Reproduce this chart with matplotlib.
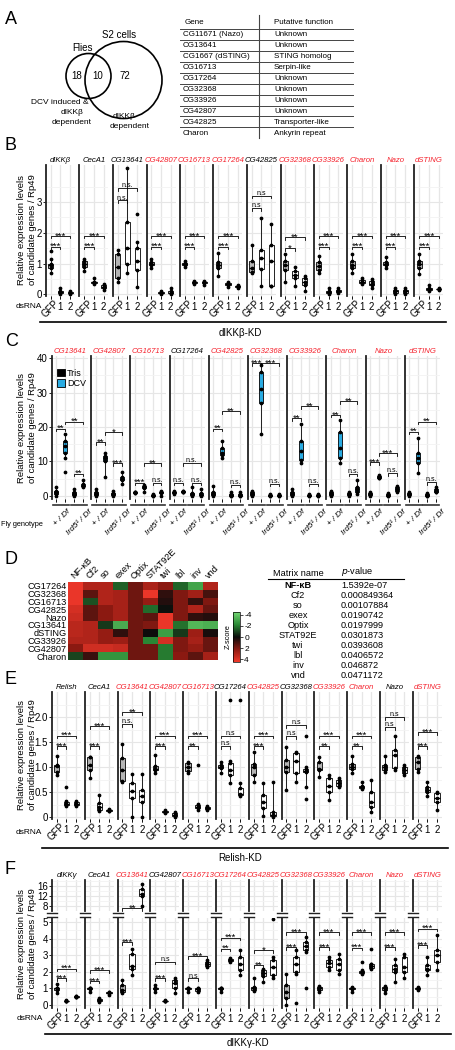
import numpy as np
import matplotlib
matplotlib.use("Agg")
import matplotlib.pyplot as plt
from matplotlib.colors import LinearSegmentedColormap
from matplotlib.patches import Circle, Patch

plt.rcParams['font.family'] = ['Liberation Sans', 'DejaVu Sans']

W, H = 456, 1050
RED = '#f5222d'
BLUE = '#29abe2'
GRID = '#e6e6e6'
GFPFILL = '#b5b5b5'

# ---------------- panel A data ----------------
venn_names = ['Flies', 'S2 cells']
venn_counts = [18, 10, 72]
tbl_genes = ['CG11671 (Nazo)', 'CG13641', 'CG1667 (dSTING)', 'CG16713', 'CG17264',
             'CG32368', 'CG33926', 'CG42807', 'CG42825', 'Charon']
tbl_funcs = ['Unknown', 'Unknown', 'STING homolog', 'Serpin-like', 'Unknown',
             'Unknown', 'Unknown', 'Unknown', 'Transporter-like', 'Ankyrin repeat']

# ---------------- panel B data (dIKKb-KD) ----------------
# each group: (whisker low, q1, median, q3, whisker high); groups = GFP, 1, 2
genes_B = ['dIKKβ', 'CecA1', 'CG13641', 'CG42807', 'CG16713', 'CG17264',
           'CG42825', 'CG32368', 'CG33926', 'Charon', 'Nazo', 'dSTING']
red_B = [0, 0, 0, 1, 1, 1, 0, 1, 1, 1, 1, 1]
stats_B = [
    [(0.7, 0.85, 0.95, 1.0, 1.15), (0.0, 0.04, 0.07, 0.1, 0.2), (0.02, 0.04, 0.05, 0.07, 0.1)],
    [(0.75, 0.9, 1.0, 1.1, 1.15), (0.35, 0.38, 0.4, 0.42, 0.55), (0.15, 0.22, 0.25, 0.3, 0.35)],
    [(0.4, 0.55, 0.9, 1.3, 1.45), (0.7, 1.0, 1.5, 2.35, 4.1), (0.25, 0.8, 1.1, 1.5, 1.7)],
    [(0.85, 0.95, 1.0, 1.05, 1.15), (0.02, 0.04, 0.06, 0.08, 0.12), (0.02, 0.04, 0.06, 0.1, 0.2)],
    [(0.9, 0.97, 1.0, 1.03, 1.1), (0.35, 0.38, 0.4, 0.42, 0.45), (0.3, 0.37, 0.4, 0.42, 0.45)],
    [(0.6, 0.85, 0.95, 1.05, 1.35), (0.25, 0.3, 0.33, 0.38, 0.42), (0.2, 0.24, 0.26, 0.28, 0.3)],
    [(0.68, 0.72, 0.85, 1.07, 1.6), (0.26, 0.84, 1.17, 1.43, 2.47), (0.26, 0.26, 1.1, 1.6, 2.3)],
    [(0.42, 0.78, 0.95, 1.1, 1.3), (0.26, 0.52, 0.62, 0.75, 0.88), (0.1, 0.3, 0.4, 0.52, 0.6)],
    [(0.7, 0.78, 0.92, 1.05, 1.25), (0.03, 0.06, 0.08, 0.12, 0.2), (0.05, 0.08, 0.1, 0.15, 0.22)],
    [(0.7, 0.85, 0.95, 1.1, 1.3), (0.33, 0.36, 0.42, 0.48, 0.55), (0.2, 0.3, 0.35, 0.45, 0.5)],
    [(0.85, 0.95, 1.0, 1.05, 1.2), (0.03, 0.06, 0.1, 0.15, 0.2), (0.03, 0.06, 0.1, 0.15, 0.22)],
    [(0.65, 0.85, 1.0, 1.1, 1.3), (0.12, 0.16, 0.18, 0.2, 0.3), (0.15, 0.17, 0.18, 0.19, 0.22)],
]
out_B = [(0, 1, 1.4), (2, 3, 2.6)]
# (label GFP-1, label GFP-2, height GFP-1, height GFP-2)
sig_B = [('***', '***', 1.55, 1.9), ('***', '***', 1.55, 1.9), ('n.s.', 'n.s.', 3.05, 3.45),
         ('***', '***', 1.55, 1.9), ('***', '***', 1.55, 1.9), ('***', '***', 1.55, 1.9),
         ('n.s', 'n.s', 2.8, 3.2), ('*', '**', 1.5, 1.85), ('***', '***', 1.55, 1.9),
         ('***', '***', 1.55, 1.9), ('***', '***', 1.55, 1.9), ('***', '***', 1.55, 1.9)]

# ---------------- panel C data (DCV infection) ----------------
# groups: +/Df Tris, +/Df DCV, Ird5/Df Tris, Ird5/Df DCV
genes_C = ['CG13641', 'CG42807', 'CG16713', 'CG17264', 'CG42825',
           'CG32368', 'CG33926', 'Charon', 'Nazo', 'dSTING']
red_C = [1, 1, 1, 0, 1, 1, 1, 1, 1, 1]
stats_C = [
    [(0, 0.5, 1, 1.5, 2.5), (11, 12.5, 14.5, 16, 18), (0, 0.3, 0.6, 1, 2), (2.5, 2.8, 3, 3.5, 4.5)],
    [(0, 0.3, 0.5, 1, 2), (5.5, 10, 11, 11.5, 12.5), (0, 0.2, 0.5, 0.8, 1.5), (3.5, 4.5, 5, 5.5, 7)],
    [(0.8, 0.9, 1.0, 1.1, 1.2), (1.0, 2.2, 2.5, 2.8, 3.3), (0, 0.1, 0.2, 0.3, 0.5), (0, 0.8, 1.0, 1.2, 1.5)],
    [(0.5, 0.8, 1.0, 1.2, 1.5), (1.0, 1.1, 1.2, 1.3, 1.5), (0, 0.2, 0.5, 0.8, 2.5), (0, 0.2, 0.4, 0.8, 2.0)],
    [(0, 0.3, 0.6, 1.2, 3), (11, 12, 12.5, 14, 16), (0, 0.1, 0.3, 0.5, 1), (0, 0.1, 0.3, 0.5, 1)],
    [(0, 0.2, 0.5, 1, 1.5), (18, 27, 31, 36, 38), (0, 0.1, 0.2, 0.3, 0.5), (0, 0.1, 0.2, 0.3, 0.5)],
    [(0, 0.3, 0.5, 1, 2), (9.6, 10.5, 13, 16, 21), (0, 0.1, 0.2, 0.3, 0.5), (0, 0.1, 0.2, 0.3, 0.5)],
    [(0, 0.3, 0.5, 1, 1.5), (9.6, 11, 14, 18.5, 22), (0, 0.2, 0.5, 0.8, 1.2), (0.5, 1.2, 2, 2.6, 4.5)],
    [(0, 0.2, 0.5, 0.8, 1.2), (5.2, 5.3, 5.5, 5.8, 6), (0, 0.1, 0.3, 0.5, 0.8), (1, 1.5, 2, 2.5, 3)],
    [(0, 0.2, 0.5, 0.8, 1.2), (6.6, 9.6, 11, 12.4, 16.8), (0, 0.1, 0.3, 0.5, 0.8), (1, 1.2, 1.5, 2, 2.5)],
]
out_C = [(0, 2, 7.0)]
# brackets: (group a, group b, height, label)
sig_C = [
    [(1, 2, 19.5, '**'), (3, 4, 6.5, '**'), (2, 4, 21.5, '**')],
    [(1, 2, 15.5, '**'), (3, 4, 9.5, '***'), (2, 4, 18.5, '*')],
    [(1, 2, 3.8, '***'), (3, 4, 3.8, 'n.s.'), (2, 4, 9.5, '**')],
    [(1, 2, 3.8, 'n.s.'), (3, 4, 3.8, 'n.s.'), (2, 4, 9.5, 'n.s.')],
    [(1, 2, 19.5, '**'), (3, 4, 3.2, 'n.s.'), (2, 4, 24.5, '**')],
    [(1, 2, 38.5, '***'), (2, 4, 38.5, '***'), (3, 4, 3.5, 'n.s.')],
    [(1, 2, 22.5, '**'), (2, 4, 26.0, '**'), (3, 4, 3.5, 'n.s.')],
    [(1, 2, 23.5, '**'), (2, 4, 27.5, '**'), (3, 4, 6.5, 'n.s.')],
    [(1, 2, 9.8, '***'), (2, 4, 12.4, '***'), (3, 4, 6.6, 'n.s.')],
    [(1, 2, 18.6, '**'), (2, 4, 21.5, '**'), (3, 4, 4.0, 'n.s.')],
]
geno_C = ['+ / Df', 'Ird5¹ / Df']

# ---------------- panel D data ----------------
rows_D = ['CG17264', 'CG32368', 'CG16713', 'CG42825', 'Nazo',
          'CG13641', 'dSTING', 'CG33926', 'CG42807', 'Charon']
cols_D = ['NF-κB', 'Cf2', 'so', 'exex', 'Optix', 'STAT92E', 'twi', 'lbl', 'inv', 'vnd']
z_D = [
    [4.3, 3.0, 3.0, -1.5, 1.7, 2.9, 2.2, -1.6, -3.0, 3.0],
    [4.3, 1.4, 3.0, 2.8, 1.7, 4.3, 0.6, 2.0, 2.7, 1.0],
    [4.3, -1.2, 3.0, 2.8, 1.7, 2.4, 0.4, 2.0, 0.7, 2.0],
    [3.8, 1.4, 2.2, 2.8, 1.7, -1.7, -0.1, 2.0, 3.0, 1.6],
    [3.6, 1.4, 2.2, 2.8, 1.7, 1.4, 4.3, 2.0, 0.6, 0.4],
    [3.2, 3.0, -0.8, -3.2, 1.7, 2.0, 4.3, -1.8, -3.5, -3.3],
    [3.2, 3.0, 2.4, 0.6, 1.7, 0.0, -2.8, -0.8, 2.6, 0.2],
    [3.0, 3.0, 2.4, 2.6, 1.7, -2.2, 3.8, 2.0, 2.8, 1.6],
    [2.2, 3.7, 3.7, 3.5, 1.7, 1.7, -2.0, 2.0, 2.4, 1.6],
    [-1.0, 0.8, -2.6, -2.6, 1.7, 1.7, -2.0, 2.2, 1.4, 2.8],
]
tf_names = ['NF-κB', 'Cf2', 'so', 'exex', 'Optix', 'STAT92E', 'twi', 'lbl', 'inv', 'vnd']
tf_pvals = ['1.5392e-07', '0.000849364', '0.00107884', '0.0190742', '0.0197999',
            '0.0301873', '0.0393608', '0.0406572', '0.046872', '0.0471172']

# ---------------- panel E data (Relish-KD) ----------------
genes_E = ['Relish', 'CecA1', 'CG13641', 'CG42807', 'CG16713', 'CG17264',
           'CG42825', 'CG32368', 'CG33926', 'Charon', 'Nazo', 'dSTING']
red_E = [0, 0, 1, 1, 1, 0, 1, 0, 1, 1, 0, 1]
stats_E = [
    [(0.85, 0.9, 1.02, 1.05, 1.22), (0.22, 0.25, 0.27, 0.3, 0.32), (0.22, 0.25, 0.27, 0.3, 0.32)],
    [(0.78, 0.94, 1.05, 1.2, 1.2), (0.12, 0.15, 0.2, 0.28, 0.44), (0.12, 0.13, 0.14, 0.15, 0.17)],
    [(0.7, 0.72, 0.95, 1.18, 1.47), (0.0, 0.38, 0.52, 0.68, 0.87), (0.0, 0.3, 0.42, 0.55, 0.87)],
    [(0.88, 0.94, 0.96, 1.02, 1.24), (0.08, 0.1, 0.11, 0.12, 0.14), (0.0, 0.02, 0.04, 0.08, 0.1)],
    [(0.88, 0.92, 1.0, 1.08, 1.1), (0.15, 0.18, 0.2, 0.24, 0.27), (0.15, 0.17, 0.18, 0.2, 0.22)],
    [(0.88, 0.98, 1.0, 1.04, 1.1), (0.68, 0.84, 0.95, 1.08, 1.12), (0.43, 0.44, 0.46, 0.58, 0.68)],
    [(0.7, 0.84, 1.0, 1.06, 1.3), (0.02, 0.18, 0.3, 0.45, 0.68), (0.0, 0.02, 0.05, 0.1, 0.7)],
    [(0.54, 0.9, 1.0, 1.14, 1.4), (0.7, 0.88, 1.12, 1.28, 1.3), (0.6, 0.9, 0.93, 0.97, 1.0)],
    [(0.8, 0.95, 0.97, 1.1, 1.2), (0.35, 0.5, 0.62, 0.78, 0.85), (0.6, 0.62, 0.68, 0.74, 0.78)],
    [(0.88, 0.96, 1.0, 1.06, 1.22), (0.57, 0.59, 0.6, 0.62, 0.7), (0.1, 0.2, 0.3, 0.5, 0.75)],
    [(0.9, 0.95, 1.0, 1.05, 1.22), (0.95, 0.98, 1.25, 1.35, 1.63), (0.84, 0.88, 0.95, 1.0, 1.05)],
    [(0.9, 0.96, 1.1, 1.2, 1.22), (0.42, 0.5, 0.55, 0.6, 0.7), (0.15, 0.3, 0.38, 0.48, 0.5)],
]
out_E = [(0, 2, 0.6), (4, 2, 1.04), (5, 2, 2.34), (5, 3, 2.34), (7, 3, 1.62), (7, 3, 0.36)]
sig_E = [('***', '***', 1.42, 1.63), ('***', '***', 1.42, 1.82), ('n.s.', '**', 1.86, 2.1),
         ('***', '***', 1.42, 1.63), ('**', '***', 1.42, 1.63), ('n.s', 'n.s', 1.42, 1.63),
         ('***', '***', 1.42, 1.63), ('n.s', 'n.s', 1.62, 1.84), ('**', '***', 1.42, 1.63),
         ('**', '***', 1.42, 1.63), ('n.s', 'n.s', 1.8, 2.0), ('***', '***', 1.42, 1.7)]

# ---------------- panel F data (dIKKg-KD) ----------------
genes_F = ['dIKKγ', 'CecA1', 'CG13641', 'CG42807', 'CG16713', 'CG17264',
           'CG42825', 'CG32368', 'CG33926', 'Charon', 'Nazo', 'dSTING']
red_F = [0, 0, 1, 0, 1, 1, 1, 1, 1, 1, 1, 1]
stats_F = [
    [(0.75, 0.9, 1.0, 1.05, 1.25), (0.22, 0.24, 0.25, 0.26, 0.28), (0.46, 0.48, 0.5, 0.52, 0.55)],
    [(0.8, 0.97, 1.0, 1.0, 1.02), (0.18, 0.22, 0.28, 0.35, 0.45), (0.6, 0.7, 0.75, 0.78, 0.8)],
    [(0.75, 0.8, 0.9, 1.2, 1.5), (1.8, 2.2, 2.35, 3.1, 3.4), (8, 12, 13, 15, 17)],
    [(0.8, 0.95, 1.0, 1.0, 1.2), (0.22, 0.24, 0.25, 0.26, 0.28), (0.7, 1.0, 1.3, 1.5, 1.6)],
    [(0.8, 0.97, 1.0, 1.0, 1.03), (0.8, 0.85, 0.95, 1.0, 1.05), (2.3, 2.35, 2.5, 2.6, 2.7)],
    [(0.8, 0.97, 1.0, 1.0, 1.05), (2.6, 2.65, 2.7, 2.75, 2.85), (1.8, 2.1, 2.5, 2.9, 3.3)],
    [(0.85, 0.9, 1.0, 1.1, 1.6), (1.4, 1.75, 1.95, 2.1, 2.2), (1.6, 1.8, 2.3, 2.7, 2.9)],
    [(0.0, 0.45, 0.8, 1.2, 1.85), (1.9, 2.0, 2.5, 2.9, 3.3), (3.2, 3.3, 3.55, 3.8, 4.1)],
    [(0.8, 0.9, 1.0, 1.1, 1.15), (2.1, 2.3, 2.55, 2.7, 2.9), (1.9, 2.1, 2.5, 2.8, 3.1)],
    [(0.8, 0.95, 1.0, 1.05, 1.1), (1.9, 1.95, 2.0, 2.05, 2.1), (2.2, 2.25, 2.35, 2.45, 2.5)],
    [(0.7, 0.9, 1.0, 1.1, 1.15), (1.4, 2.0, 2.2, 2.4, 2.75), (1.6, 2.0, 2.3, 2.9, 3.1)],
    [(0.9, 0.95, 1.0, 1.05, 1.1), (1.8, 2.1, 2.2, 2.4, 2.9), (2.1, 2.6, 3.0, 3.3, 4.2)],
]
out_F = [(6, 3, 5.2), (7, 2, 0.1), (7, 3, 1.0), (9, 2, 2.6), (9, 3, 3.4)]
sig_F = [('***', '***', 1.6, 2.2), ('***', '***', 1.45, 2.1), ('***', '**', 3.8, 7.2),
         ('***', 'n.s', 1.6, 2.6), ('n.s', '***', 1.6, 2.95), ('**', '***', 3.4, 4.07),
         ('**', '*', 2.4, 3.3), ('***', '***', 3.5, 4.4), ('***', '***', 3.5, 4.4),
         ('***', '***', 3.45, 4.4), ('***', '***', 3.5, 4.4), ('***', '***', 3.6, 4.6)]

# ---------------------------------------------------------------
fig = plt.figure(figsize=(W / 100, H / 100), dpi=100)


def ax_px(x, y, w, h):
    return fig.add_axes([x / W, 1 - (y + h) / H, w / W, h / H])


def draw_box(ax, pos, st, fill, w=0.55, lw=0.6):
    lo, q1, med, q3, hi = st
    ax.bxp([dict(whislo=lo, q1=q1, med=med, q3=q3, whishi=hi, fliers=[])],
           positions=[pos], widths=w, showcaps=False, patch_artist=True,
           boxprops=dict(facecolor=fill, edgecolor='k', lw=lw),
           whiskerprops=dict(color='k', lw=lw), medianprops=dict(color='k', lw=lw * 1.6))
    ax.plot([pos] * 5, st, 'o', ms=1.7, color='k', zorder=5, clip_on=True)


def bracket(ax, x1, x2, y, lab, drop_px=2.5):
    y0, y1 = ax.get_ylim()
    d = drop_px * (y1 - y0) / ax.bbox.height
    ax.plot([x1, x1, x2, x2], [y - d, y, y, y - d], color='k', lw=0.6, clip_on=False, zorder=6)
    star = '*' in lab
    ax.annotate(lab, ((x1 + x2) / 2, y), xytext=(0, -2.4 if star else 0.8),
                textcoords='offset pixels', ha='center', va='baseline',
                fontsize=6.8 if star else 5.0, annotation_clip=False)


def facet(x, y, w, h, nbox, ylim, yticks, ylabs, minor, first):
    ax = ax_px(x, y, w, h)
    ax.set_xlim(0.5, nbox + 0.5)
    ax.set_ylim(*ylim)
    for s in ['top', 'right', 'bottom']:
        ax.spines[s].set_visible(False)
    ax.spines['left'].set_linewidth(1.3)
    ax.spines['left'].set_color('#222222')
    ax.set_xticks(range(1, nbox + 1))
    ax.set_yticks(yticks)
    ax.set_yticks(minor, minor=True)
    ax.grid(True, which='major', color=GRID, lw=0.8)
    ax.grid(True, which='minor', axis='y', color='#f3f3f3', lw=0.6)
    ax.set_axisbelow(True)
    ax.tick_params(axis='x', length=2, width=0.5, labelbottom=False)
    ax.tick_params(axis='y', which='minor', length=0)
    if first:
        ax.set_yticklabels(ylabs, fontsize=7)
        ax.tick_params(axis='y', length=2, width=0.6, pad=1)
    else:
        ax.tick_params(axis='y', length=0, labelleft=False)
    return ax


def kd_labels(ax):
    for j, lab in enumerate(['GFP', '1', '2']):
        if lab == 'GFP':
            ax.annotate(lab, (j + 1, 0), xycoords=('data', 'axes fraction'), xytext=(0, -2),
                        textcoords='offset pixels', rotation=45, ha='center', va='top',
                        fontsize=7, annotation_clip=False)
        else:
            ax.annotate(lab, (j + 1, 0), xycoords=('data', 'axes fraction'), xytext=(0, -11),
                        textcoords='offset pixels', ha='center', va='center',
                        fontsize=7, annotation_clip=False)


def kd_row(genes, reds, stats, outs, sigs, x0, pitch, w, top, h, ylim, yticks, ylabs, minor):
    axes = []
    for i, g in enumerate(genes):
        ax = facet(x0 + pitch * i, top, w, h, 3, ylim, yticks, ylabs, minor, i == 0)
        ax.set_title(g, fontsize=5.6, style='italic', color=RED if reds[i] else 'k', pad=2.5)
        for j, st in enumerate(stats[i]):
            draw_box(ax, j + 1, st, GFPFILL if j == 0 else 'white')
        for gi, pos, v in outs:
            if gi == i:
                ax.plot(pos, v, 'o', ms=1.7, color='k', zorder=5)
        l1, l2, h1, h2 = sigs[i]
        bracket(ax, 1, 2, h1, l1)
        if h2 is not None:
            bracket(ax, 1, 3, h2, l2)
        kd_labels(ax)
        axes.append(ax)
    return axes


ov = fig.add_axes([0, 0, 1, 1], zorder=10)
ov.set_xlim(0, W)
ov.set_ylim(H, 0)
ov.axis('off')

# ---------------- panel A ----------------
for lab, yy in zip('ABCDEF', [20, 145, 341, 560, 680, 870]):
    ov.text(5, yy, lab, fontsize=13, va='center', ha='left')

ov.add_patch(Circle((88.5, 76), 22.5, fill=False, lw=1.2, ec='k'))
ov.add_patch(Circle((123.5, 80), 38.5, fill=False, lw=1.2, ec='k'))
ov.text(83, 48, venn_names[0], fontsize=7, ha='center', va='center')
ov.text(119, 35, venn_names[1], fontsize=7, ha='center', va='center')
for cx, n in zip([77, 98, 125], venn_counts):
    ov.text(cx, 76, str(n), fontsize=7, ha='center', va='center')
ov.text(89, 102, 'DCV induced &', fontsize=6, ha='right', va='center')
ov.text(72, 112, 'dIKKβ', fontsize=6, ha='center', va='center')
ov.text(72, 123, 'dependent', fontsize=6, ha='center', va='center')
ov.text(124, 116, 'dIKKβ', fontsize=6, ha='center', va='center')
ov.text(130, 126, 'dependent', fontsize=6, ha='center', va='center')

ov.text(185, 23, 'Gene', fontsize=5.8, va='center')
ov.text(274, 23, 'Putative function', fontsize=5.8, va='center')
ov.plot([259, 259], [15, 138], color='#444444', lw=0.8)
row_y = 35 + 10.9 * np.arange(len(tbl_genes))
for k, (g, f) in enumerate(zip(tbl_genes, tbl_funcs)):
    ov.text(183, row_y[k], g, fontsize=5.8, va='center')
    ov.text(274, row_y[k], f, fontsize=5.8, va='center')
    ov.plot([180, 353], [row_y[k] - 5.8] * 2, color='#444444', lw=0.7)

# ---------------- panel B ----------------
kd_row(genes_B, red_B, stats_B, out_B, sig_B, 46, 33.5, 29, 165, 131,
       (-0.05, 4.2), [0, 1, 2, 3], ['0', '1', '2', '3'], [0.5, 1.5, 2.5, 3.5])
ov.text(42, 307, 'dsRNA', fontsize=6, ha='right', va='center')
ov.plot([40, 446], [322, 322], color='k', lw=1.2)
ov.text(240, 333, 'dIKKβ-KD', fontsize=7, ha='center', va='center')
ov.text(27, 230, 'Relative expression levels\nof candidate genes / Rp49', fontsize=6.8,
        rotation=90, ha='center', va='center', linespacing=1.15)

# ---------------- panel C ----------------
fills_C = ['k', BLUE, 'k', BLUE]
for i, g in enumerate(genes_C):
    ax = facet(52 + 39.2 * i, 356, 35.5, 143, 4, (-0.9, 40.6), [0, 10, 20, 30, 40],
               ['0', '10', '20', '30', '40'], [5, 15, 25, 35], i == 0)
    ax.set_title(g, fontsize=5.6, style='italic', color=RED if red_C[i] else 'k', pad=2.5)
    for j, st in enumerate(stats_C[i]):
        draw_box(ax, j + 1, st, fills_C[j], w=0.45)
    for gi, pos, v in out_C:
        if gi == i:
            ax.plot(pos, v, 'o', ms=1.7, color='k', zorder=5)
    for a, b, hh, lab in sig_C[i]:
        bracket(ax, a, b, hh, lab)
    for gk in range(2):
        ax.plot([0.6 + 2 * gk, 2.4 + 2 * gk], [-0.045, -0.045], color='#333333', lw=1.2,
                transform=ax.get_xaxis_transform(), clip_on=False)
        ax.annotate(geno_C[gk], (1.5 + 2 * gk, 0), xycoords=('data', 'axes fraction'),
                    xytext=(1, -9), textcoords='offset pixels', rotation=45, ha='center',
                    va='top', fontsize=6, style='italic', annotation_clip=False)
    if i == 0:
        ax.legend(handles=[Patch(facecolor='k', edgecolor='k', lw=0.6, label='Tris'),
                           Patch(facecolor=BLUE, edgecolor='k', lw=0.6, label='DCV')],
                  loc='upper left', bbox_to_anchor=(0.0, 0.95), frameon=False, fontsize=6.5,
                  handlelength=0.8, handleheight=0.9, handletextpad=0.25, labelspacing=0.15,
                  borderaxespad=0.2)
ov.text(43, 524, 'Fly genotype', fontsize=5.3, ha='right', va='center')
ov.text(27, 428, 'Relative expression levels\nof candidate genes / Rp49', fontsize=6.8,
        rotation=90, ha='center', va='center', linespacing=1.15)

# ---------------- panel D ----------------
cmap = LinearSegmentedColormap.from_list(
    'gkr', ['#74d874', '#2a8a35', '#0c0c0c', '#8e1a12', '#f2392b'])
axh = ax_px(68, 582, 150, 78)
im = axh.imshow(np.array(z_D), cmap=cmap, vmin=-4.5, vmax=4.5, aspect='auto',
                interpolation='nearest')
axh.set_yticks(range(len(rows_D)))
axh.set_yticklabels(rows_D, fontsize=6.6)
axh.set_xticks(range(len(cols_D)))
axh.xaxis.tick_top()
axh.set_xticklabels(cols_D, rotation=45, ha='left', rotation_mode='anchor', fontsize=6.6)
axh.tick_params(length=0, pad=1)
for s in axh.spines.values():
    s.set_visible(False)
cax = ax_px(233, 612, 7, 50)
cb = fig.colorbar(im, cax=cax, ticks=[-4, -2, 0, 2, 4])
cax.invert_yaxis()
cb.ax.set_yticklabels(['-4', '-2', '0', '2', '4'], fontsize=6)
cb.ax.tick_params(length=2, width=0.5, pad=1)
cb.outline.set_linewidth(0.5)
ov.text(228, 637, 'Z-score', fontsize=5.3, rotation=90, ha='center', va='center')

ov.text(298, 573, 'Matrix name', fontsize=6.6, ha='center', va='center')
ov.text(341, 572, '$p$-value', fontsize=6.6, ha='left', va='center')
ov.plot([268, 404], [579, 579], color='k', lw=0.8)
for k, (nm, pv) in enumerate(zip(tf_names, tf_pvals)):
    yy = 586 + 9.9 * k
    ov.text(298, yy, nm, fontsize=6.6, ha='center', va='center',
            fontweight='bold' if k == 0 else 'normal')
    ov.text(341, yy, pv, fontsize=6.6, ha='left', va='center')

# ---------------- panel E ----------------
kd_row(genes_E, red_E, stats_E, out_E, sig_E, 52, 32.8, 29, 692, 127,
       (-0.04, 2.5), [0, 0.5, 1, 1.5, 2], ['0', '0.5', '1.0', '1.5', '2.0'],
       [0.25, 0.75, 1.25, 1.75, 2.25])
ov.text(42, 832, 'dsRNA', fontsize=6, ha='right', va='center')
ov.plot([42, 448], [848, 848], color='k', lw=1.2)
ov.text(240, 858, 'Relish-KD', fontsize=7, ha='center', va='center')
ov.text(27, 755, 'Relative expression levels\nof candidate genes / Rp49', fontsize=6.8,
        rotation=90, ha='center', va='center', linespacing=1.15)

# ---------------- panel F (broken axis) ----------------
low_axes = kd_row(genes_F, red_F, stats_F, out_F, [(s[0], s[1], s[2], None) for s in sig_F],
                  52, 32.8, 29, 918, 90, (-0.18, 5.25), [0, 1, 2, 3, 4, 5],
                  ['0', '1', '2', '3', '4', '5'], [0.5, 1.5, 2.5, 3.5, 4.5])
for i, g in enumerate(genes_F):
    low = low_axes[i]
    low.set_title('')
    up = facet(52 + 32.8 * i, 880, 29, 31, 3, (6, 18.5), [8, 12, 16], ['8', '12', '16'],
               [10, 14, 18], i == 0)
    up.tick_params(axis='x', length=0)
    up.set_title(g, fontsize=5.6, style='italic', color=RED if red_F[i] else 'k', pad=2.5)
    for j, st in enumerate(stats_F[i]):
        draw_box(up, j + 1, st, GFPFILL if j == 0 else 'white')
    l1, l2, h1, h2 = sig_F[i]
    if h2 > 5.25:
        bracket(up, 1, 3, h2, l2)
    else:
        bracket(low, 1, 3, h2, l2)
    xs = 52 + 32.8 * i
    for yy in (912.5, 916.5):
        ov.plot([xs - 5, xs + 5], [yy, yy], color='#222222', lw=1.0)
ov.text(43, 1018, 'dsRNA', fontsize=6, ha='right', va='center')
ov.plot([45, 451], [1034, 1034], color='k', lw=1.2)
ov.text(248, 1043, 'dIKKγ-KD', fontsize=7, ha='center', va='center')
ov.text(27, 944, 'Relative expression levels\nof candidate genes / Rp49', fontsize=6.8,
        rotation=90, ha='center', va='center', linespacing=1.15)

fig.savefig('out.png', dpi=100)
